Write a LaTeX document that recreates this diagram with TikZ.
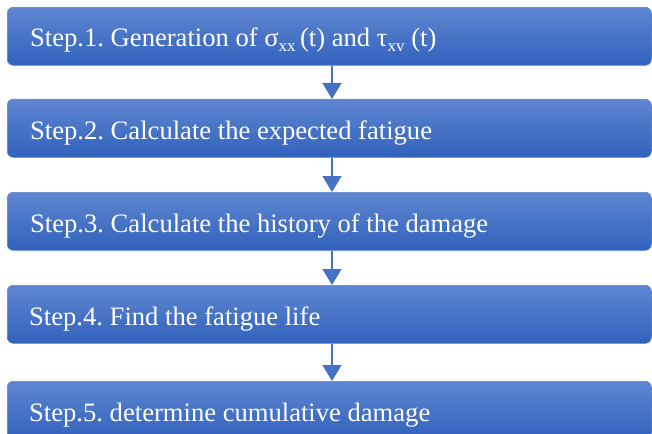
\documentclass[tikz,border=0pt]{standalone}
\usepackage{fontspec}
\setmainfont{Liberation Serif}
\usetikzlibrary{arrows.meta,calc}
\definecolor{boxtop}{HTML}{5F86D0}
\definecolor{boxbot}{HTML}{3162BC}
\definecolor{boxline}{HTML}{5A80CA}
\definecolor{arrowcol}{HTML}{4472C4}
\newcommand{\sbs}[1]{\raisebox{-0.18em}{\fontsize{17}{17}\selectfont #1}}
\frenchspacing
\begin{document}
\begin{tikzpicture}[x=1pt,y=-1pt]
\tikzset{
  stepbox/.style={rectangle, rounded corners=6pt, anchor=north west,
    minimum width=644pt, minimum height=58pt, inner sep=0pt,
    top color=boxtop, bottom color=boxbot, draw=boxline, line width=0.6pt},
  steptext/.style={anchor=base west, inner sep=0pt, text=white,
    font=\fontsize{26.6}{30}\selectfont},
  flow/.style={draw=arrowcol, line width=1.6pt,
    -{Triangle[length=16pt,width=19pt]}}
}
\useasboundingbox (0,0) rectangle (652,433);
\node[stepbox] (b1) at (7,7) {};
\node[stepbox] (b2) at (7,99) {};
\node[stepbox] (b3) at (7,192) {};
\node[stepbox] (b4) at (7,285) {};
\node[stepbox] (b5) at (7,381) {};
\node[steptext] (t1) at ($(b1.north west)+(23,40)$) {Step.1. Generation of σ\sbs{xx}\,(t) and τ\sbs{xv} (t)};
\node[steptext] (t2) at ($(b2.north west)+(23,40)$) {Step.2. Calculate the expected fatigue};
\node[steptext] (t3) at ($(b3.north west)+(23,40)$) {Step.3. Calculate the history of the damage};
\node[steptext] (t4) at ($(b4.north west)+(22,40)$) {Step.4. Find the fatigue life};
\node[steptext] (t5) at ($(b5.north west)+(22,40)$) {Step.5. determine cumulative damage};
\coordinate (a1) at (332,0);
\draw[flow] (b1.south -| a1) -- (b2.north -| a1);
\draw[flow] (b2.south -| a1) -- (b3.north -| a1);
\draw[flow] (b3.south -| a1) -- (b4.north -| a1);
\draw[flow] (b4.south -| a1) -- (b5.north -| a1);
\end{tikzpicture}
\end{document}
